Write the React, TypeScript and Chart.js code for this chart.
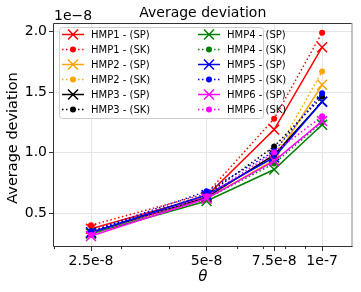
import React, { useEffect, useRef } from "react";
import { Chart, registerables } from "chart.js";

Chart.register(...registerables);

const thetaValues = [2.5e-8, 5e-8, 7.5e-8, 1e-7];
const xTickLabels = ["2.5e-8", "5e-8", "7.5e-8", "1e-7"];
const xMinorTicks = [2e-8, 3e-8, 4e-8, 6e-8, 7e-8, 8e-8, 9e-8];
const yTickValues = [0.5, 1.0, 1.5, 2.0];

// values in units of 1e-8
const hmp1SP = [0.37, 0.64, 1.19, 1.87];
const hmp1SK = [0.40, 0.66, 1.28, 1.99];
const hmp2SP = [0.34, 0.62, 0.94, 1.56];
const hmp2SK = [0.35, 0.64, 0.97, 1.67];
const hmp3SP = [0.34, 0.63, 0.98, 1.42];
const hmp3SK = [0.35, 0.65, 1.05, 1.46];
const hmp4SP = [0.33, 0.60, 0.86, 1.23];
const hmp4SK = [0.34, 0.62, 0.91, 1.25];
const hmp5SP = [0.34, 0.65, 0.96, 1.42];
const hmp5SK = [0.35, 0.68, 1.01, 1.49];
const hmp6SP = [0.31, 0.62, 0.93, 1.26];
const hmp6SK = [0.32, 0.64, 1.00, 1.30];

const seriesNames = [
  "HMP1 - (SP)", "HMP1 - (SK)", "HMP2 - (SP)", "HMP2 - (SK)",
  "HMP3 - (SP)", "HMP3 - (SK)", "HMP4 - (SP)", "HMP4 - (SK)",
  "HMP5 - (SP)", "HMP5 - (SK)", "HMP6 - (SP)", "HMP6 - (SK)",
];
const seriesValues = [hmp1SP, hmp1SK, hmp2SP, hmp2SK, hmp3SP, hmp3SK, hmp4SP, hmp4SK, hmp5SP, hmp5SK, hmp6SP, hmp6SK];
const seriesColors = ["#ff0000", "#ff0000", "#ffa500", "#ffa500", "#000000", "#000000", "#008000", "#008000", "#0000ff", "#0000ff", "#ff00ff", "#ff00ff"];

const FONT = "'DejaVu Sans', sans-serif";
const DASH = [1.5, 2.5];

function drawMarker(ctx: CanvasRenderingContext2D, x: number, y: number, sk: boolean, color: string) {
  ctx.save();
  if (sk) {
    ctx.fillStyle = color;
    ctx.beginPath();
    ctx.arc(x, y, 3, 0, Math.PI * 2);
    ctx.fill();
  } else {
    ctx.strokeStyle = color;
    ctx.lineWidth = 1.5;
    const d = 5;
    ctx.beginPath();
    ctx.moveTo(x - d, y - d);
    ctx.lineTo(x + d, y + d);
    ctx.moveTo(x - d, y + d);
    ctx.lineTo(x + d, y - d);
    ctx.stroke();
  }
  ctx.restore();
}

const decorPlugin = {
  id: "decor",
  afterDatasetsDraw(chart: any) {
    const ctx: CanvasRenderingContext2D = chart.ctx;
    const { left, right, top, bottom } = chart.chartArea;
    const xs = chart.scales.x;
    ctx.save();
    // frame
    ctx.lineWidth = 1;
    ctx.strokeStyle = "#888888";
    ctx.beginPath();
    ctx.moveTo(right - 0.5, top);
    ctx.lineTo(right - 0.5, bottom);
    ctx.stroke();
    ctx.strokeStyle = "#333333";
    ctx.beginPath();
    ctx.moveTo(right - 1, top + 0.5);
    ctx.lineTo(left + 0.5, top + 0.5);
    ctx.lineTo(left + 0.5, bottom - 0.5);
    ctx.lineTo(right, bottom - 0.5);
    ctx.stroke();
    // minor ticks
    ctx.strokeStyle = "#333333";
    ctx.beginPath();
    for (const v of xMinorTicks) {
      const px = Math.round(xs.getPixelForValue(v)) + 0.5;
      if (px > left && px < right - 1) {
        ctx.moveTo(px, bottom);
        ctx.lineTo(px, bottom + 2);
      }
    }
    ctx.stroke();
    // title
    ctx.fillStyle = "#000";
    ctx.font = `14px ${FONT}`;
    ctx.textAlign = "center";
    ctx.textBaseline = "alphabetic";
    ctx.fillText("Average deviation", (left + right) / 2, 17);
    // offset text
    ctx.textAlign = "left";
    ctx.fillText("1e\u22128", left + 1, 19.5);
    // x title
    ctx.font = `italic 15px ${FONT}`;
    ctx.textAlign = "center";
    ctx.textBaseline = "middle";
    ctx.fillText("\u03b8", (left + right) / 2, 277);
    // y title
    ctx.save();
    ctx.translate(13, (top + bottom) / 2 + 3);
    ctx.rotate(-Math.PI / 2);
    ctx.font = `14.5px ${FONT}`;
    ctx.fillText("Average deviation", 0, 0);
    ctx.restore();
    // legend
    const bx = left + 6, by = top + 4, bw = 204, bh = 91;
    ctx.fillStyle = "rgba(255,255,255,0.85)";
    ctx.strokeStyle = "#cccccc";
    ctx.beginPath();
    (ctx as any).roundRect(bx + 0.5, by + 0.5, bw, bh, 3);
    ctx.fill();
    ctx.stroke();
    ctx.font = `10px ${FONT}`;
    ctx.textAlign = "left";
    ctx.textBaseline = "middle";
    for (let i = 0; i < seriesNames.length; i++) {
      const col = i < 6 ? 0 : 1;
      const row = i % 6;
      const x0 = col === 0 ? bx + 3 : bx + 139;
      const y = by + 7.5 + row * 15;
      const sk = i % 2 === 1;
      const color = seriesColors[i];
      ctx.strokeStyle = color;
      ctx.lineWidth = 1.5;
      ctx.setLineDash(sk ? DASH : []);
      ctx.beginPath();
      ctx.moveTo(x0, y);
      ctx.lineTo(x0 + 22, y);
      ctx.stroke();
      ctx.setLineDash([]);
      drawMarker(ctx, x0 + 11, y, sk, color);
      ctx.fillStyle = "#000";
      ctx.fillText(seriesNames[i], x0 + 29, y + 0.5);
    }
    ctx.restore();
  },
};

export default function App() {
  const canvasRef = useRef<HTMLCanvasElement | null>(null);
  useEffect(() => {
    if (!canvasRef.current) return;
    const n = seriesValues.length;
    const datasets = seriesValues.map((vals, i) => {
      const sk = i % 2 === 1;
      return {
        label: seriesNames[i],
        data: thetaValues.map((x, j) => ({ x, y: vals[j] })),
        borderColor: seriesColors[i],
        backgroundColor: seriesColors[i],
        borderWidth: 1.5,
        borderDash: sk ? DASH : [],
        pointStyle: sk ? "circle" : "crossRot",
        pointRadius: sk ? 3 : 7,
        pointBorderWidth: sk ? 0 : 1.5,
        pointBackgroundColor: seriesColors[i],
        pointBorderColor: seriesColors[i],
        tension: 0,
        order: n - i,
      };
    });
    const chart = new Chart(canvasRef.current, {
      type: "line",
      data: { datasets },
      options: {
        animation: false,
        responsive: false,
        devicePixelRatio: 1,
        layout: { padding: { top: 23, right: 7, left: 0, bottom: 0 } },
        plugins: { legend: { display: false }, title: { display: false }, tooltip: { enabled: false } },
        scales: {
          x: {
            type: "logarithmic",
            min: 1.99e-8,
            max: 1.2e-7,
            afterBuildTicks: (scale: any) => {
              scale.ticks = thetaValues.map((v) => ({ value: v }));
            },
            afterFit: (scale: any) => {
              scale.height = 45;
            },
            ticks: {
              autoSkip: false,
              maxRotation: 0,
              padding: 2,
              color: "#000",
              font: { family: FONT, size: 14 },
              callback: (v: any) => {
                const idx = thetaValues.findIndex((t) => Math.abs(t - v) / t < 1e-6);
                return idx >= 0 ? xTickLabels[idx] : "";
              },
            },
            grid: { color: "#e6e6e6", lineWidth: 1, tickLength: 4, tickColor: "#333333" },
            border: { display: false },
          },
          y: {
            type: "linear",
            min: 0.22,
            max: 2.07,
            afterBuildTicks: (scale: any) => {
              scale.ticks = yTickValues.map((v) => ({ value: v }));
            },
            afterFit: (scale: any) => {
              scale.width = 53;
            },
            ticks: {
              padding: 2,
              color: "#000",
              font: { family: FONT, size: 14 },
              callback: (v: any) => Number(v).toFixed(1),
            },
            grid: { color: "#e6e6e6", lineWidth: 1, tickLength: 4, tickColor: "#333333" },
            border: { display: false },
          },
        },
      },
      plugins: [decorPlugin],
    } as any);
    return () => chart.destroy();
  }, []);
  return (
    <div style={{ position: "absolute", left: 0, top: 0, width: 361, height: 292 }}>
      <canvas ref={canvasRef} width={361} height={292} style={{ width: 361, height: 292 }} />
    </div>
  );
}
